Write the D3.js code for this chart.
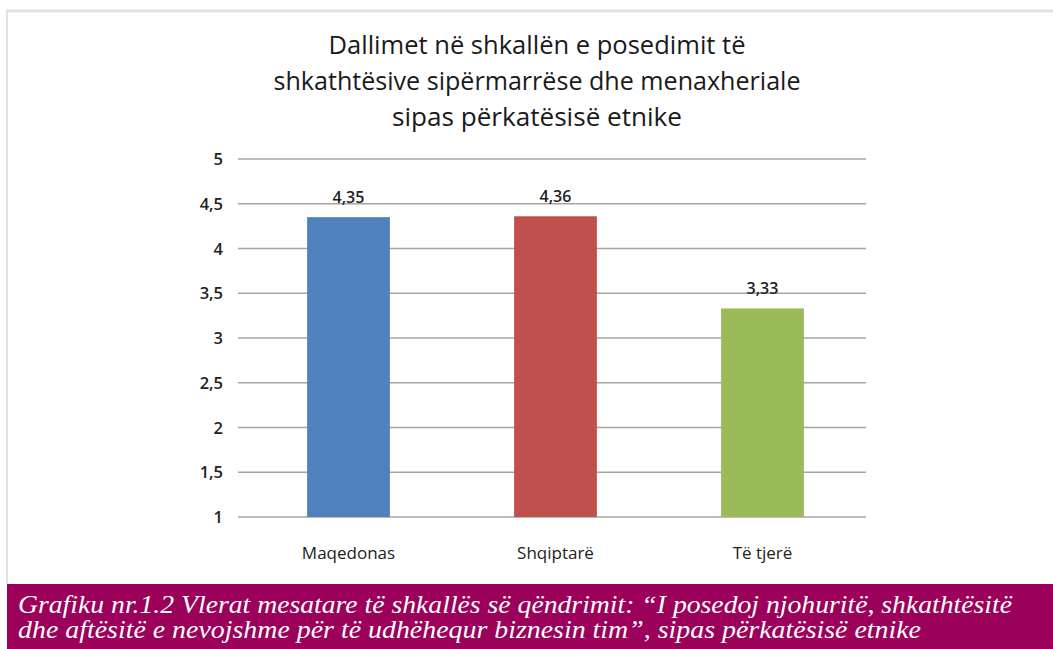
<!DOCTYPE html>
<html><head><meta charset="utf-8">
<script src="https://cdn.jsdelivr.net/npm/d3@7"></script>
<style>body{margin:0;background:#fff;} svg{display:block;}</style>
</head><body>
<svg id="c" width="1053" height="649"></svg>
<script>
const categories = ["Maqedonas", "Shqiptarë", "Të tjerë"];
const values = [4.35, 4.36, 3.33];
const valueLabels = ["4,35", "4,36", "3,33"];
const yTicks = [1, 1.5, 2, 2.5, 3, 3.5, 4, 4.5, 5];
const colors = ["#4f81bd", "#c0504d", "#9bbb59"];
const titleLines = ["Dallimet në shkallën e posedimit të", "shkathtësive sipërmarrëse dhe menaxheriale", "sipas  përkatësisë etnike"];
const captionLines = ["Grafiku nr.1.2 Vlerat mesatare të shkallës së qëndrimit: “I posedoj njohuritë, shkathtësitë", "dhe aftësitë e nevojshme për të udhëhequr biznesin tim”, sipas përkatësisë etnike"];

const svg = d3.select("#c");
svg.append("rect").attr("x",0).attr("y",0).attr("width",1053).attr("height",649).attr("fill","#fff");
svg.append("line").attr("x1",6).attr("x2",1053).attr("y1",11).attr("y2",11).attr("stroke","#e2e2e2").attr("stroke-width",3);
svg.append("line").attr("x1",7).attr("x2",7).attr("y1",10).attr("y2",584).attr("stroke","#e2e2e2").attr("stroke-width",2);

const x = d3.scaleBand().domain(categories).range([245, 866]).paddingInner(0.6).paddingOuter(0.3);
const y = d3.scaleLinear().domain([1,5]).range([517,159]);

const g = svg.append("g");
g.selectAll("line.grid").data(yTicks).enter().append("line")
  .attr("x1",238).attr("x2",866).attr("y1",d=>y(d)).attr("y2",d=>y(d))
  .attr("stroke","#a8a4a0").attr("stroke-width",1.5);

const fmt = d => String(d).replace(".", ",");
g.selectAll("text.yt").data(yTicks).enter().append("text")
  .attr("x",223).attr("y",d=>y(d)+6).attr("text-anchor","end")
  .attr("font-family","Open Sans, sans-serif").attr("font-size",16.5).attr("font-weight",600).attr("fill","#222")
  .text(fmt);

g.selectAll("rect.bar").data(values).enter().append("rect")
  .attr("x",(d,i)=>x(categories[i])).attr("width",x.bandwidth())
  .attr("y",d=>y(d)).attr("height",d=>y(1)-y(d))
  .attr("fill",(d,i)=>colors[i]);

g.selectAll("text.vl").data(values).enter().append("text")
  .attr("x",(d,i)=>x(categories[i])+x.bandwidth()/2).attr("y",d=>y(d)-14)
  .attr("text-anchor","middle").attr("font-family","Open Sans, sans-serif").attr("font-size",16).attr("font-weight",600).attr("fill","#222")
  .text((d,i)=>valueLabels[i]);

g.selectAll("text.cl").data(categories).enter().append("text")
  .attr("x",d=>x(d)+x.bandwidth()/2).attr("y",559)
  .attr("text-anchor","middle").attr("font-family","Open Sans, sans-serif").attr("font-size",17).attr("fill","#222")
  .text(d=>d);

svg.selectAll("text.title").data(titleLines).enter().append("text")
  .attr("x",537).attr("y",(d,i)=>54+i*36).attr("text-anchor","middle")
  .attr("font-family","Open Sans, sans-serif").attr("font-size",25).attr("fill","#1a1a1a")
  .attr("textLength",(d,i)=>[417,527,290][i]).attr("lengthAdjust","spacingAndGlyphs")
  .text(d=>d);

svg.append("rect").attr("x",7).attr("y",584).attr("width",1046).attr("height",65).attr("fill","#9b005b");
svg.selectAll("text.cap").data(captionLines).enter().append("text")
  .attr("x",18).attr("y",(d,i)=>613+i*25)
  .attr("font-family","Liberation Serif, serif").attr("font-style","italic").attr("font-size",25).attr("fill","#fff")
  .attr("textLength",(d,i)=>[994,903][i]).attr("lengthAdjust","spacingAndGlyphs")
  .text(d=>d);
</script>
</body></html>
